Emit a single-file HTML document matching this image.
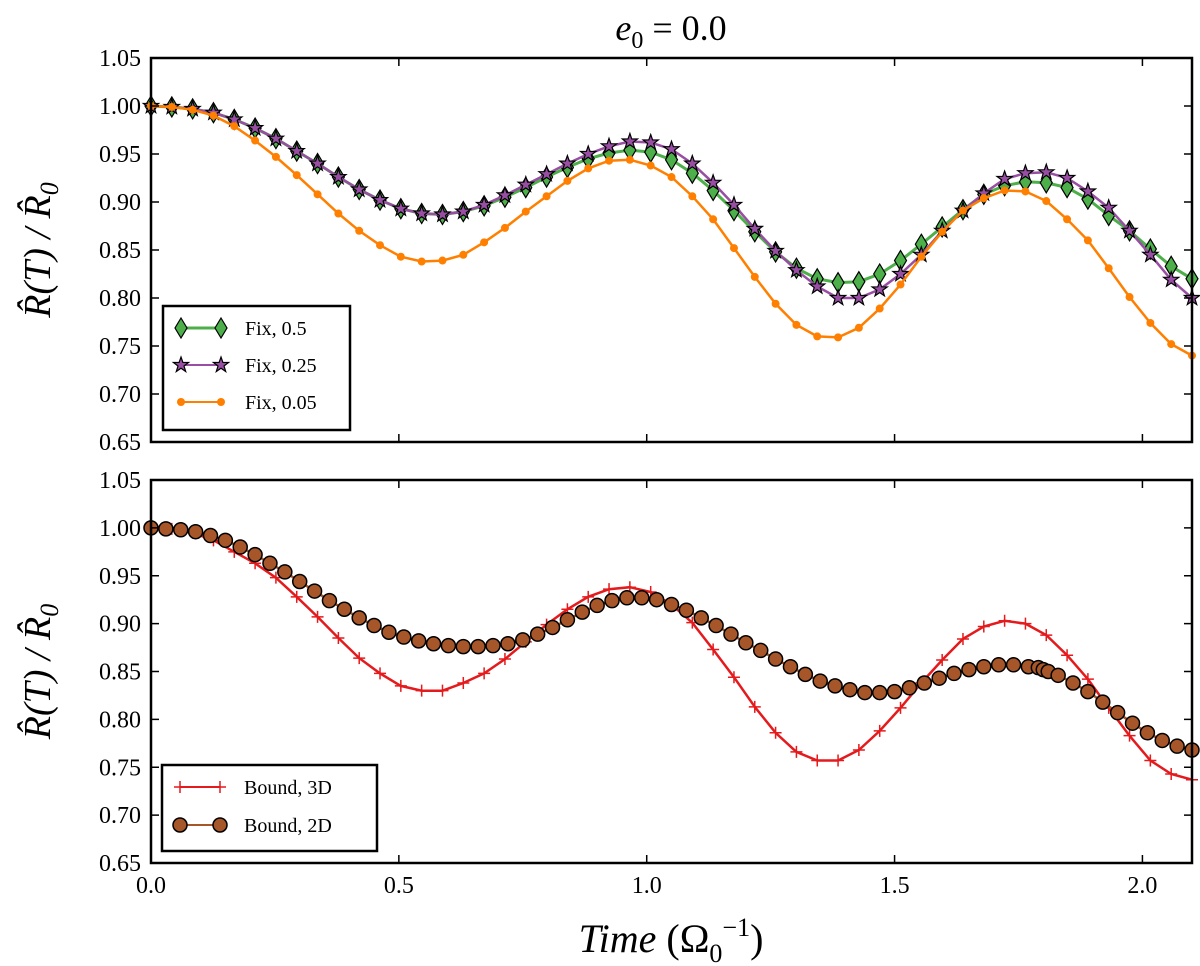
<!DOCTYPE html>
<html><head><meta charset="utf-8"><style>
body{margin:0;background:#fff}
svg{display:block;font-family:"Liberation Serif",serif}
</style></head><body>
<svg id="chart" width="1200" height="966" viewBox="0 0 1200 966" xmlns="http://www.w3.org/2000/svg">
<text x="671" y="40" font-size="36" text-anchor="middle"><tspan font-style="italic">e</tspan><tspan font-size="24" dy="8">0</tspan><tspan dy="-8"> = 0.0</tspan></text>
<g id="top"></g>
<g id="bot"></g>
<text x="671" y="952" font-size="40" text-anchor="middle"><tspan font-style="italic">Time</tspan> (Ω<tspan font-size="26" dy="10">0</tspan><tspan font-size="26" dy="-26">−1</tspan><tspan dy="16">)</tspan></text>
</svg>
<script>
const xTicks=[0.0,0.5,1.0,1.5,2.0];
const xTickLabels=["0.0","0.5","1.0","1.5","2.0"];
const yTicks=[0.65,0.70,0.75,0.80,0.85,0.90,0.95,1.00,1.05];
const yTickLabels=["0.65","0.70","0.75","0.80","0.85","0.90","0.95","1.00","1.05"];
const sampleStep=0.042;
const fix05=[1.000,.999,.997,.993,.986,.977,.966,.953,.940,.926,.913,.902,.893,.888,.887,.890,.896,.905,.915,.926,.936,.945,.951,.954,.952,.944,.930,.912,.891,.869,.848,.831,.820,.816,.817,.825,.839,.856,.874,.892,.908,.917,.921,.920,.915,.903,.886,.870,.851,.833,.820];
const fix025=[1.000,.999,.997,.993,.986,.977,.966,.953,.940,.926,.913,.902,.893,.888,.887,.890,.897,.907,.918,.929,.940,.950,.958,.963,.962,.955,.940,.920,.897,.872,.849,.829,.812,.800,.800,.809,.825,.845,.870,.891,.909,.924,.930,.931,.925,.911,.894,.870,.845,.819,.800];
const fix005=[1.000,.999,.996,.990,.979,.964,.947,.928,.908,.888,.870,.855,.843,.838,.839,.845,.858,.873,.890,.906,.922,.935,.943,.944,.938,.926,.906,.882,.852,.822,.794,.772,.760,.759,.769,.789,.814,.843,.869,.891,.904,.912,.911,.901,.882,.860,.831,.801,.774,.752,.740];
const bound3d=[1.000,.999,.995,.987,.975,.963,.948,.928,.907,.885,.864,.848,.835,.830,.830,.838,.848,.863,.881,.899,.915,.928,.936,.938,.933,.920,.901,.873,.844,.813,.786,.766,.757,.757,.768,.788,.812,.838,.862,.884,.897,.903,.900,.888,.867,.842,.812,.783,.757,.743,.737];
const bound2dT=[0,.03,.06,.09,.12,.15,.18,.21,.24,.27,.30,.33,.36,.39,.42,.45,.48,.51,.54,.57,.60,.63,.66,.69,.72,.75,.78,.81,.84,.87,.90,.93,.96,.99,1.02,1.05,1.08,1.11,1.14,1.17,1.20,1.23,1.26,1.29,1.32,1.35,1.38,1.41,1.44,1.47,1.50,1.53,1.56,1.59,1.62,1.65,1.68,1.71,1.74,1.77,1.79,1.80,1.81,1.83,1.86,1.89,1.92,1.95,1.98,2.01,2.04,2.07,2.10];
const bound2d=[1.000,.999,.998,.996,.992,.987,.980,.972,.963,.954,.944,.934,.924,.915,.906,.898,.891,.886,.882,.879,.877,.876,.876,.877,.879,.883,.889,.896,.904,.912,.919,.924,.927,.927,.925,.920,.914,.906,.898,.889,.880,.872,.863,.855,.847,.840,.835,.831,.828,.828,.829,.833,.838,.843,.848,.852,.855,.857,.857,.855,.854,.852,.850,.846,.838,.829,.818,.807,.796,.786,.778,.772,.768];

const NS="http://www.w3.org/2000/svg";
const X0=151,X1=1192,TMAX=2.1;
function sx(t){return X0+(X1-X0)*t/TMAX;}
function mk(tag,attrs,parent){const e=document.createElementNS(NS,tag);for(const k in attrs)e.setAttribute(k,attrs[k]);parent.appendChild(e);return e;}
function times(n){const a=[];for(let i=0;i<n;i++)a.push(Math.min(i*sampleStep,TMAX));return a;}

function marker(g,type,x,y,color){
  let e;
  if(type==='diamond'){e=mk('polygon',{points:`${x},${y-10} ${x+6},${y} ${x},${y+10} ${x-6},${y}`,fill:color,stroke:'#000','stroke-width':1.2},g);}
  else if(type==='star'){let p=[];for(let i=0;i<10;i++){const r=i%2?3.2:8,a=-Math.PI/2+i*Math.PI/5;p.push((x+r*Math.cos(a)).toFixed(1)+','+(y+r*Math.sin(a)).toFixed(1));}
    e=mk('polygon',{points:p.join(' '),fill:color,stroke:'#000','stroke-width':1.2},g);}
  else if(type==='dot'){e=mk('circle',{cx:x,cy:y,r:4,fill:color},g);}
  else if(type==='plus'){e=mk('path',{d:`M${x-6},${y}H${x+6}M${x},${y-6}V${y+6}`,stroke:color,'stroke-width':1.5},g);}
  else if(type==='circle'){e=mk('circle',{cx:x,cy:y,r:7,fill:color,stroke:'#000','stroke-width':1.5},g);}
  return e;
}

function panel(g,Y0,Y1,series,legend,showX){
  const sy=v=>Y1-(v-0.65)/(0.40)*(Y1-Y0);
  series.forEach(s=>{
    const ts=s.t||times(s.v.length);
    const d=s.v.map((v,i)=>(i?'L':'M')+sx(ts[i]).toFixed(1)+','+sy(v).toFixed(1)).join('');
    const sg=mk('g',{},g);
    
    
    mk('path',{d:d,fill:'none',stroke:s.color,'stroke-width':s.lw},sg);
    s.v.forEach((v,i)=>{const m=marker(sg,s.m,sx(ts[i]),sy(v),s.color);
      
      });
  });
  const fr=mk('rect',{x:X0,y:Y0,width:X1-X0,height:Y1-Y0,fill:'none',stroke:'#000','stroke-width':2.5},g);
  
  
  yTicks.forEach((v,i)=>{const y=sy(v);
    mk('path',{d:`M${X0},${y}h8M${X1},${y}h-8`,stroke:'#000','stroke-width':1.5},g);
    const t=mk('text',{x:141,y:y+8,'font-size':24,'text-anchor':'end'},g);t.textContent=yTickLabels[i];
    
    });
  xTicks.forEach((v,i)=>{const x=sx(v);
    mk('path',{d:`M${x},${Y1}v-8M${x},${Y0}v8`,stroke:'#000','stroke-width':1.5},g);
    if(showX){const t=mk('text',{x:x,y:Y1+30,'font-size':24,'text-anchor':'middle'},g);t.textContent=xTickLabels[i];
      
      }});
  const yc=(Y0+Y1)/2;
  const yt=mk('text',{x:0,y:0,'font-size':38,'text-anchor':'middle','font-style':'italic',transform:`translate(50,${yc}) rotate(-90)`},g);
  yt.innerHTML='R̂(T) / R̂<tspan font-size="26" dy="8">0</tspan>';
  
  
  const lg=mk('g',{},g);
  
  
  mk('rect',{x:legend.x,y:legend.y,width:legend.w,height:legend.h,fill:'#fff',stroke:'#000','stroke-width':2.5},lg);
  legend.items.forEach((it,i)=>{const y=legend.y+22+i*legend.dy;
    const eg=mk('g',{},lg);
    
    
    mk('path',{d:`M${legend.x+18},${y}h40`,stroke:it.color,'stroke-width':it.lw},eg);
    marker(eg,it.m,legend.x+18,y,it.color);marker(eg,it.m,legend.x+58,y,it.color);
    const t=mk('text',{x:legend.x+82,y:y+7,'font-size':20},eg);t.textContent=it.label;});
}
const topS=[
 {name:'fix-0.5',v:fix05,color:'#4daf4a',m:'diamond',lw:3},
 {name:'fix-0.25',v:fix025,color:'#984ea3',m:'star',lw:2.5},
 {name:'fix-0.05',v:fix005,color:'#ff7f00',m:'dot',lw:2.5}];
panel(document.getElementById('top'),58,442,topS,{x:163,y:306,w:187,h:124,dy:37,items:[
 {label:'Fix, 0.5',color:'#4daf4a',m:'diamond',lw:3},{label:'Fix, 0.25',color:'#984ea3',m:'star',lw:2},{label:'Fix, 0.05',color:'#ff7f00',m:'dot',lw:2}]},false);
const botS=[
 {name:'bound-3d',v:bound3d,color:'#e41a1c',m:'plus',lw:2.5},
 {name:'bound-2d',v:bound2d,t:bound2dT,color:'#a65628',m:'circle',lw:2.5}];
panel(document.getElementById('bot'),480,863,botS,{x:162,y:765,w:215,h:86,dy:38,items:[
 {label:'Bound, 3D',color:'#e41a1c',m:'plus',lw:2},{label:'Bound, 2D',color:'#a65628',m:'circle',lw:2}]},true);
</script>
</body></html>
